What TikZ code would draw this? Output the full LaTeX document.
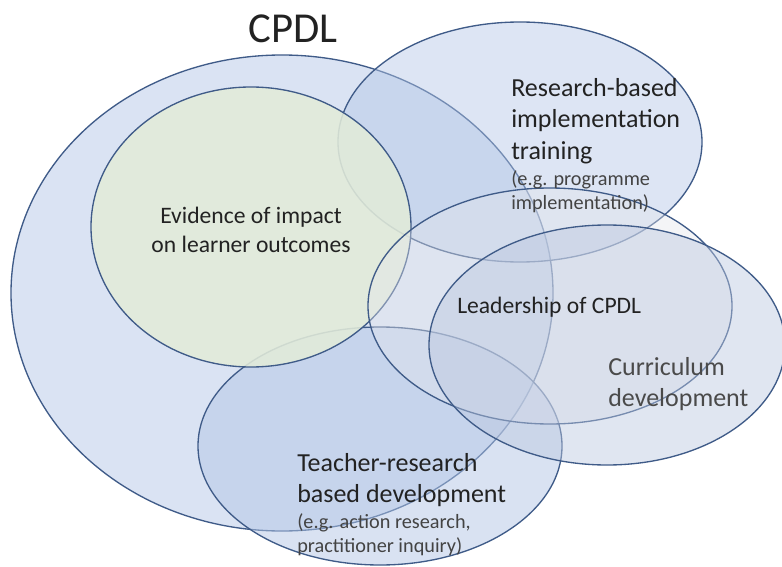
\documentclass[tikz,border=0pt]{standalone}
\usepackage{fontspec}
\setmainfont{Carlito}
\usetikzlibrary{shapes.geometric}

\definecolor{edge}{HTML}{3F5B88}
\definecolor{ink}{HTML}{222222}
\definecolor{softink}{HTML}{4A4A4A}
\definecolor{cpdlfill}{HTML}{DAE3F3}
\definecolor{bluefill}{HTML}{B4C7E7}
\definecolor{greenfill}{HTML}{E2EBD9}
\definecolor{leadfill}{HTML}{E4E6EC}
\definecolor{currfill}{HTML}{BCC8E0}

\tikzset{
  ring/.style={ellipse, draw=edge, line width=1pt, inner sep=0pt, outer sep=0pt},
  label/.style={inner sep=0pt, text=ink, align=left, anchor=west},
  bigtext/.style={font=\fontsize{19.5}{23.6}\selectfont},
  midtext/.style={font=\fontsize{17.7}{21.8}\selectfont},
  subtext/.style={font=\fontsize{15.2}{18.2}\selectfont}
}

\begin{document}
\begin{tikzpicture}[x=0.75pt, y=-0.75pt]
  \useasboundingbox (0,0) rectangle (782,567);
  \fill[white] (0,0) rectangle (782,567);
  \clip (0,0) rectangle (782,567);

  % overlapping areas, back to front
  \node[ring, fill=cpdlfill, minimum width=406.5pt, minimum height=357pt] (cpdl) at (282,293) {};
  \node[ring, fill=bluefill, fill opacity=0.45, minimum width=273pt, minimum height=180pt] (research) at (520,142) {};
  \node[ring, fill=bluefill, fill opacity=0.5, minimum width=273pt, minimum height=178.5pt] (teacher) at (380,446) {};
  \node[ring, fill=greenfill, fill opacity=0.88, minimum width=240pt, minimum height=210pt] (evidence) at (251,227) {};
  \node[ring, fill=leadfill, fill opacity=0.4, minimum width=273pt, minimum height=177pt] (leadership) at (550,306) {};
  \node[ring, fill=currfill, fill opacity=0.45, minimum width=267pt, minimum height=180pt] (curriculum) at (607,345) {};

  % labels
  \node[inner sep=0pt, text=ink, font=\fontsize{32}{38}\selectfont] (title) at (293,29) {CPDL};

  \node[label, midtext, align=center, anchor=center] (evidencetext) at (251,230)
    {Evidence of impact\\on learner outcomes};

  \node[label, midtext] (leadtext) at (457,307) {Leadership of CPDL};

  \node[label, bigtext] (researchtext) at (511,121)
    {Research-based\\implementation\\training};
  \node[label, subtext, text=ink!85] (researchsub) at (511,192)
    {(e.g. programme\\implementation)};

  \node[label, bigtext, text=softink] (curriculumtext) at (608,384)
    {Curriculum\\development};

  \node[label, bigtext] (teachertext) at (297,480)
    {Teacher-research\\based development};
  \node[label, subtext, text=ink!85] (teachersub) at (297,535)
    {(e.g. action research,\\practitioner inquiry)};
\end{tikzpicture}
\end{document}
